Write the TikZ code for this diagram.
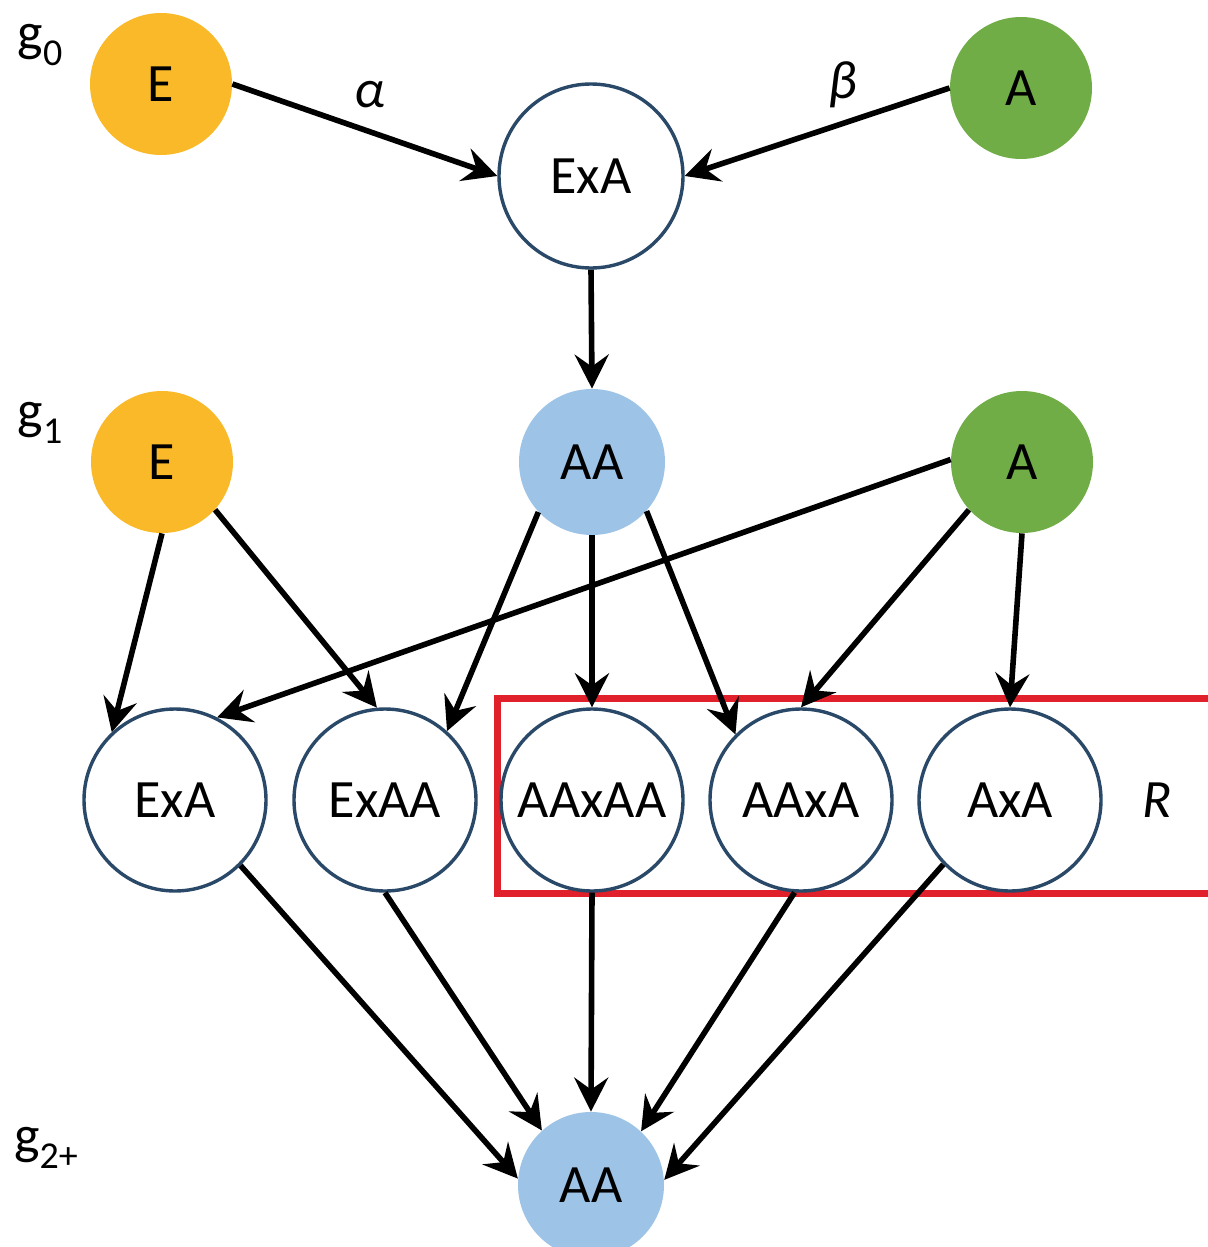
\documentclass[tikz,border=0pt]{standalone}
\usepackage{fontspec}
\setmainfont{Carlito}
\usetikzlibrary{arrows.meta}
\definecolor{egold}{HTML}{F9B928}
\definecolor{agreen}{HTML}{70AD47}
\definecolor{aasky}{HTML}{9DC3E6}
\definecolor{ringblue}{HTML}{2A4868}
\definecolor{boxred}{HTML}{E0202A}
\newcommand{\glabel}[1]{g\raisebox{-0.28em}{\fontsize{19}{20}\selectfont #1}}
\begin{document}
\begin{tikzpicture}[x=0.5pt,y=-0.5pt,>={Stealth[length=17pt,width=17pt,inset=6pt]},
    every node/.style={font=\fontsize{27}{32}\selectfont},
    gold/.style={circle,fill=egold,inner sep=0pt,minimum size=71pt},
    leaf/.style={circle,fill=agreen,inner sep=0pt,minimum size=71pt},
    sky/.style={circle,fill=aasky,inner sep=0pt,minimum size=73pt},
    cross/.style={circle,draw=ringblue,line width=1.7pt,fill=white,inner sep=0pt,minimum size=91pt},
    arrow/.style={->,line width=2.8pt}]
    \useasboundingbox (0,0) rectangle (1208,1247);
    \draw[boxred,line width=3.5pt] (497,698) rectangle (1240,893);
    \node (g0) at (40,45) {\glabel{0}};
    \node (g1) at (40,423) {\glabel{1}};
    \node (g2) at (46,1148) {\glabel{2+}};
    \node[gold] (e0) at (161,84) {E};
    \node[leaf] (a0) at (1021,88) {A};
    \node[cross,minimum size=92pt] (exa0) at (591,176) {ExA};
    \node (alpha) at (370,95) {\itshape α};
    \node (beta) at (843,85) {\itshape β};
    \node[gold] (e1) at (162,462) {E};
    \node[sky] (aa1) at (592,462) {AA};
    \node[leaf] (a1) at (1022,462) {A};
    \node[cross] (exa2) at (175,800) {ExA};
    \node[cross] (exaa2) at (385,800) {ExAA};
    \node[cross] (aaxaa2) at (592,800) {AAxAA};
    \node[cross] (aaxa2) at (801,800) {AAxA};
    \node[cross] (axa2) at (1010,800) {AxA};
    \node (r) at (1157,800) {\itshape R};
    \node[sky] (aa3) at (591,1185) {AA};
    \foreach \from/\to in {e0.0/exa0.180, a0.180/exa0.0, exa0.south/aa1.north,
        e1.south/exa2.133, e1.-42/exaa2.95, a1.178/exa2.63, aa1.-137/exaa2.48,
        aa1.south/aaxaa2.north, aa1.-42/aaxa2.135, a1.-138/aaxa2.90, a1.south/axa2.north,
        exa2.-45/aa3.175, exaa2.-90/aa3.132, aaxaa2.south/aa3.north,
        aaxa2.-94/aa3.47, axa2.-136/aa3.4}
        { \draw[arrow] (\from) -- (\to); }
\end{tikzpicture}
\end{document}
